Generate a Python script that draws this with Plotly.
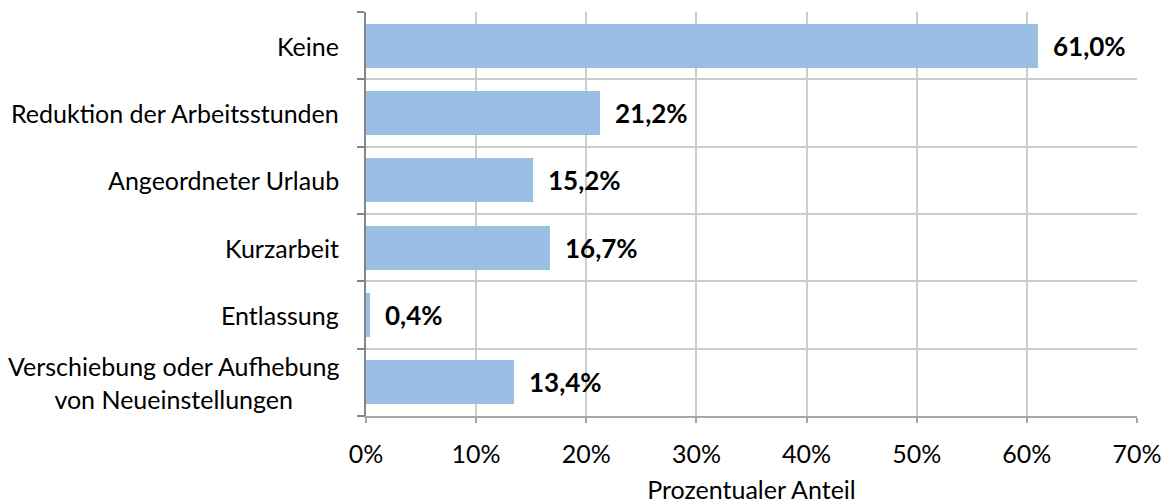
import plotly.graph_objects as go

categories = ["Keine", "Reduktion der Arbeitsstunden", "Angeordneter Urlaub",
              "Kurzarbeit", "Entlassung", "Verschiebung oder Aufhebung<br>von Neueinstellungen"]
values = [61.0, 21.2, 15.2, 16.7, 0.4, 13.4]
x_ticks = [0, 10, 20, 30, 40, 50, 60, 70]
x_title = "Prozentualer Anteil"

FONT = "Lato"
FS = 25
pos = list(range(len(categories)))

fig = go.Figure()
fig.add_trace(go.Bar(
    x=values, y=pos, orientation="h",
    marker=dict(color="#9BBFE4", line=dict(width=0)),
    width=0.655, hoverinfo="skip",
))

annotations = []
for p, v in zip(pos, values):
    annotations.append(dict(
        x=v, y=p, xref="x", yref="y", xanchor="left", yanchor="middle",
        xshift=13, showarrow=False,
        text="<b>" + f"{v:.1f}".replace(".", ",") + "%</b>",
        font=dict(family=FONT, size=26, color="#000000"),
    ))
for p, c in zip(pos, categories):
    annotations.append(dict(
        x=0, y=p, xref="paper", yref="y", xanchor="right", yanchor="middle",
        xshift=-25, showarrow=False, align="center", text=c,
        font=dict(family=FONT, size=FS, color="#000000"),
    ))

fig.update_layout(
    width=1170, height=504,
    margin=dict(l=366, r=33, t=12, b=88, autoexpand=False),
    paper_bgcolor="white", plot_bgcolor="white",
    showlegend=False,
    annotations=annotations,
    font=dict(family=FONT, size=FS, color="#000000"),
    xaxis=dict(
        range=[0, 70], tickvals=x_ticks, ticktext=[f"{t}%" for t in x_ticks],
        showgrid=True, gridcolor="#CCCCCC", gridwidth=1.5,
        showline=True, linecolor="#A6A6A6", linewidth=1.5,
        ticks="outside", ticklen=5, tickcolor="#A6A6A6", tickwidth=1.5,
        ticklabelstandoff=10,
        zeroline=False, automargin=False,
        tickfont=dict(family=FONT, size=FS, color="#000000"),
        title=dict(text=x_title, font=dict(family=FONT, size=FS, color="#000000"), standoff=17),
    ),
    yaxis=dict(
        range=[len(categories) - 0.5, -0.5],
        tickvals=[i - 0.5 for i in range(len(categories) + 1)],
        ticktext=[""] * (len(categories) + 1),
        showgrid=True, gridcolor="#CCCCCC", gridwidth=1.5,
        showline=True, linecolor="#868686", linewidth=2,
        ticks="outside", ticklen=7, tickcolor="#868686", tickwidth=2,
        zeroline=False, automargin=False,
    ),
    bargap=0,
)

fig.write_html("out.html")
